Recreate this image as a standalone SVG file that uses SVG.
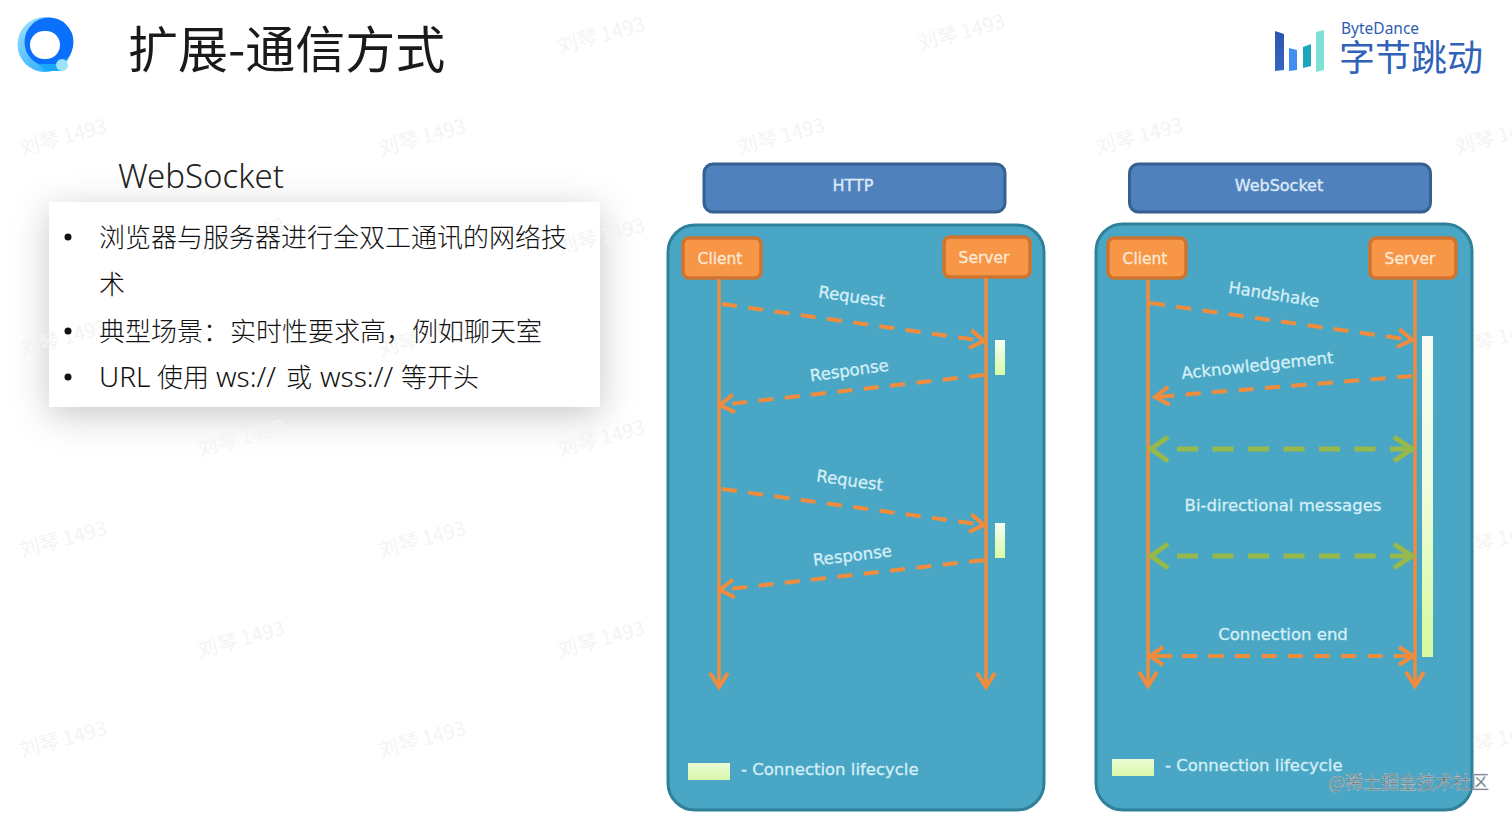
<svg xmlns="http://www.w3.org/2000/svg" width="1512" height="816" viewBox="0 0 1512 816">
<style>
.cjk{font-family:"Noto Sans CJK SC","Noto Sans",sans-serif}
.body{font-family:"Noto Sans","Noto Sans CJK SC",sans-serif;font-size:26px;fill:#111;font-weight:300}
.lat{font-size:28px}
.wm{font-family:"Noto Sans CJK SC",sans-serif;font-size:20px;fill:#f4f4f4;text-anchor:middle}
.lbl{font-family:"DejaVu Sans",sans-serif;font-size:16.500px;fill:#d6eff6;stroke:#d6eff6;stroke-width:0.3;text-anchor:middle}
.head{font-family:"DejaVu Sans",sans-serif;font-size:16px;fill:#dce8f6;stroke:#dce8f6;stroke-width:0.4;text-anchor:middle}
.actor{font-family:"DejaVu Sans",sans-serif;font-size:15.500px;fill:#fde9d6;stroke:#fde9d6;stroke-width:0.3;text-anchor:middle}
.panel{fill:#49a7c5;stroke:#2f8199;stroke-width:3}
.hdr{fill:#4f81bd;stroke:#35608f;stroke-width:3}
.box{fill:#f79646;stroke:#cf7430;stroke-width:3.5}
.life{fill:none;stroke:#f08c3e;stroke-width:3.5}
.dash{fill:none;stroke:#f08c3e;stroke-width:4;stroke-dasharray:15 11.5}
.gdash{fill:none;stroke:#97b84a;stroke-width:5;stroke-dasharray:21 14.5}
</style>
<defs>
<linearGradient id="bar" x1="0" y1="0" x2="0" y2="1"><stop offset="0" stop-color="#f6fdf0"/><stop offset="1" stop-color="#d8fba6"/></linearGradient>
<linearGradient id="lbar" x1="0" y1="0" x2="0" y2="1"><stop offset="0" stop-color="#f7fdf2"/><stop offset="0.45" stop-color="#effde0"/><stop offset="1" stop-color="#d4fa9e"/></linearGradient>
<linearGradient id="leg" x1="0" y1="0" x2="0" y2="1"><stop offset="0" stop-color="#ecfcd6"/><stop offset="1" stop-color="#d8f8a8"/></linearGradient>
<linearGradient id="ring" x1="0" y1="0" x2="0.6" y2="1"><stop offset="0" stop-color="#a6e4fd"/><stop offset="1" stop-color="#2fb0fb"/></linearGradient>
<linearGradient id="bd1" x1="0" y1="0" x2="0" y2="1"><stop offset="0" stop-color="#2c56ae"/><stop offset="1" stop-color="#3566c4"/></linearGradient>
<filter id="sh" x="-15%" y="-30%" width="130%" height="170%"><feDropShadow dx="0" dy="8" stdDeviation="18" flood-color="#000" flood-opacity="0.22"/></filter>
<marker id="a" markerUnits="userSpaceOnUse" markerWidth="26" markerHeight="26" refX="21" refY="13" orient="auto-start-reverse" viewBox="0 0 26 26"><path d="M7 4L21 13L7 22" fill="none" stroke="#f08c3e" stroke-width="4"/></marker>
<marker id="g" markerUnits="userSpaceOnUse" markerWidth="30" markerHeight="30" refX="24" refY="15" orient="auto-start-reverse" viewBox="0 0 30 30"><path d="M6 3L24 15L6 27" fill="none" stroke="#97b84a" stroke-width="5"/></marker>
</defs>
<rect width="1512" height="816" fill="#fff"/>

<g id="card"><rect x="49" y="202" width="551" height="205" fill="#fff" filter="url(#sh)"/></g>
<g id="watermarks">
<text class="wm" transform="translate(603,42) rotate(-15)">刘琴 1493</text>
<text class="wm" transform="translate(963,39) rotate(-15)">刘琴 1493</text>
<text class="wm" transform="translate(65,144) rotate(-15)">刘琴 1493</text>
<text class="wm" transform="translate(424,144) rotate(-15)">刘琴 1493</text>
<text class="wm" transform="translate(783,143) rotate(-15)">刘琴 1493</text>
<text class="wm" transform="translate(1141,143) rotate(-15)">刘琴 1493</text>
<text class="wm" transform="translate(1500,143) rotate(-15)">刘琴 1493</text>
<text class="wm" transform="translate(243,243) rotate(-15)">刘琴 1493</text>
<text class="wm" transform="translate(603,243) rotate(-15)">刘琴 1493</text>
<text class="wm" transform="translate(65,345) rotate(-15)">刘琴 1493</text>
<text class="wm" transform="translate(424,345) rotate(-15)">刘琴 1493</text>
<text class="wm" transform="translate(1500,345) rotate(-15)">刘琴 1493</text>
<text class="wm" transform="translate(243,445) rotate(-15)">刘琴 1493</text>
<text class="wm" transform="translate(603,445) rotate(-15)">刘琴 1493</text>
<text class="wm" transform="translate(65,546) rotate(-15)">刘琴 1493</text>
<text class="wm" transform="translate(424,546) rotate(-15)">刘琴 1493</text>
<text class="wm" transform="translate(1500,546) rotate(-15)">刘琴 1493</text>
<text class="wm" transform="translate(243,646) rotate(-15)">刘琴 1493</text>
<text class="wm" transform="translate(603,646) rotate(-15)">刘琴 1493</text>
<text class="wm" transform="translate(65,746) rotate(-15)">刘琴 1493</text>
<text class="wm" transform="translate(424,746) rotate(-15)">刘琴 1493</text>
<text class="wm" transform="translate(1500,746) rotate(-15)">刘琴 1493</text>
</g>

<g id="app-logo">
<circle cx="45" cy="44.500" r="27.500" fill="url(#ring)"/>
<circle cx="49" cy="42" r="24.500" fill="#0a70fb"/>
<path d="M38 64H62V71H46Z" fill="#1aa8fb"/>
<rect x="30" y="31" width="30" height="28" rx="14" fill="#fff"/>
<circle cx="62" cy="65" r="6" fill="#9be3fb"/>
</g>
<text id="title" class="cjk" x="128" y="68" font-size="50" fill="#1a1a1a">扩展-通信方式</text>
<g id="bytedance-logo">
<path d="M1275 31L1284 34V70L1275 71Z" fill="url(#bd1)"/>
<path d="M1289 48L1297 50V70L1289 71Z" fill="#3f8ff5"/>
<path d="M1303 47L1311 44V66L1303 68Z" fill="#1ea6ba"/>
<path d="M1316 32L1324 30V70L1316 72Z" fill="#7fe0d4"/>
<text x="1341" y="34" font-family="'Noto Sans',sans-serif" font-size="15.500" fill="#2f5db0">ByteDance</text>
<text class="cjk" x="1339" y="71" font-size="36" fill="#2f62b8">字节跳动</text>
</g>

<text id="subtitle" x="118" y="188" font-family="'Noto Sans',sans-serif" font-weight="300" font-size="33" fill="#222">WebSocket</text>
<g id="bullets">
<circle cx="68" cy="237" r="3.500" fill="#111"/>
<text class="body" x="99" y="247">浏览器与服务器进行全双工通讯的网络技</text>
<text class="body" x="99" y="294">术</text>
<circle cx="68" cy="331" r="3.500" fill="#111"/>
<text class="body" x="99" y="341">典型场景：<tspan x="230">实时性要求高，</tspan><tspan x="412">例如聊天室</tspan></text>
<circle cx="68" cy="377" r="3.500" fill="#111"/>
<text class="body" x="99" y="387"><tspan class="lat">URL</tspan><tspan x="157">使用</tspan><tspan class="lat" x="216">ws://</tspan><tspan x="286">或</tspan><tspan class="lat" x="320">wss://</tspan><tspan x="401">等开头</tspan></text>
</g>

<g id="http-header"><rect class="hdr" x="704" y="164" width="301" height="48" rx="9"/><text class="head" x="853" y="190.500">HTTP</text></g>
<g id="http-panel"><rect class="panel" x="668" y="225" width="376" height="585" rx="27"/></g>
<g id="http-client"><rect class="box" x="683" y="238" width="78" height="40" rx="6"/><text class="actor" x="720" y="264">Client</text></g>
<g id="http-server"><rect class="box" x="944" y="237" width="86" height="40" rx="6"/><text class="actor" x="984" y="263">Server</text></g>
<g id="http-bar1"><rect x="995" y="340" width="10" height="35" fill="url(#bar)"/></g>
<g id="http-bar2"><rect x="995" y="523" width="10" height="35" fill="url(#bar)"/></g>
<g id="http-legend"><rect x="688" y="763" width="42" height="17" fill="url(#leg)"/><text class="lbl" style="text-anchor:start" x="741" y="775">- Connection lifecycle</text></g>

<g id="ws-header"><rect class="hdr" x="1129.500" y="164" width="301" height="48" rx="9"/><text class="head" x="1279" y="190.500">WebSocket</text></g>
<g id="ws-panel"><rect class="panel" x="1096" y="224" width="376" height="586" rx="27"/></g>
<g id="ws-client"><rect class="box" x="1108" y="238" width="78" height="40" rx="6"/><text class="actor" x="1145" y="264">Client</text></g>
<g id="ws-server"><rect class="box" x="1370" y="238" width="86" height="40" rx="6"/><text class="actor" x="1410" y="264">Server</text></g>
<g id="ws-bar"><rect x="1422" y="336" width="11" height="321" fill="url(#lbar)"/></g>
<g id="ws-legend"><rect x="1112" y="759" width="42" height="17" fill="url(#leg)"/><text class="lbl" style="text-anchor:start" x="1165" y="771">- Connection lifecycle</text></g>

<g id="connectors">
<path class="life" d="M719 279V687" marker-end="url(#a)"/>
<path class="life" d="M986 278V687" marker-end="url(#a)"/>
<path class="dash" d="M722 304L984 341" marker-end="url(#a)"/>
<path class="dash" d="M984 375L720 405" marker-end="url(#a)"/>
<path class="dash" d="M722 489L984 525" marker-end="url(#a)"/>
<path class="dash" d="M984 560L720 590" marker-end="url(#a)"/>
<path class="life" d="M1148 280V686" marker-end="url(#a)"/>
<path class="life" d="M1415 280V686" marker-end="url(#a)"/>
<path class="dash" d="M1150 303L1412 340" marker-end="url(#a)"/>
<path class="dash" d="M1412 376L1155 397" marker-end="url(#a)"/>
<path class="gdash" d="M1177 449H1412" marker-end="url(#g)"/>
<path d="M1168 437L1151 449L1168 461" fill="none" stroke="#97b84a" stroke-width="5"/>
<path class="gdash" d="M1177 556H1412" marker-end="url(#g)"/>
<path d="M1168 544L1151 556L1168 568" fill="none" stroke="#97b84a" stroke-width="5"/>
<path class="dash" d="M1182 656H1413" marker-end="url(#a)"/>
<path d="M1163 647L1150 656L1163 665M1150 656H1172" fill="none" stroke="#f08c3e" stroke-width="4"/>
</g>
<g id="labels">
<text class="lbl" transform="translate(851,302) rotate(8)">Request</text>
<text class="lbl" transform="translate(850,376) rotate(-8)">Response</text>
<text class="lbl" transform="translate(849,486) rotate(8)">Request</text>
<text class="lbl" transform="translate(853,561) rotate(-7)">Response</text>
<text class="lbl" transform="translate(1273,300) rotate(9)">Handshake</text>
<text class="lbl" transform="translate(1258,371) rotate(-6)">Acknowledgement</text>
<text class="lbl" x="1283" y="511">Bi-directional messages</text>
<text class="lbl" x="1283" y="640">Connection end</text>
</g>
<text id="credit" class="cjk" x="1328" y="789" font-size="18" fill="#66727a" stroke="#c8d0d4" stroke-width="0.4">@稀土掘金技术社区</text>
</svg>
